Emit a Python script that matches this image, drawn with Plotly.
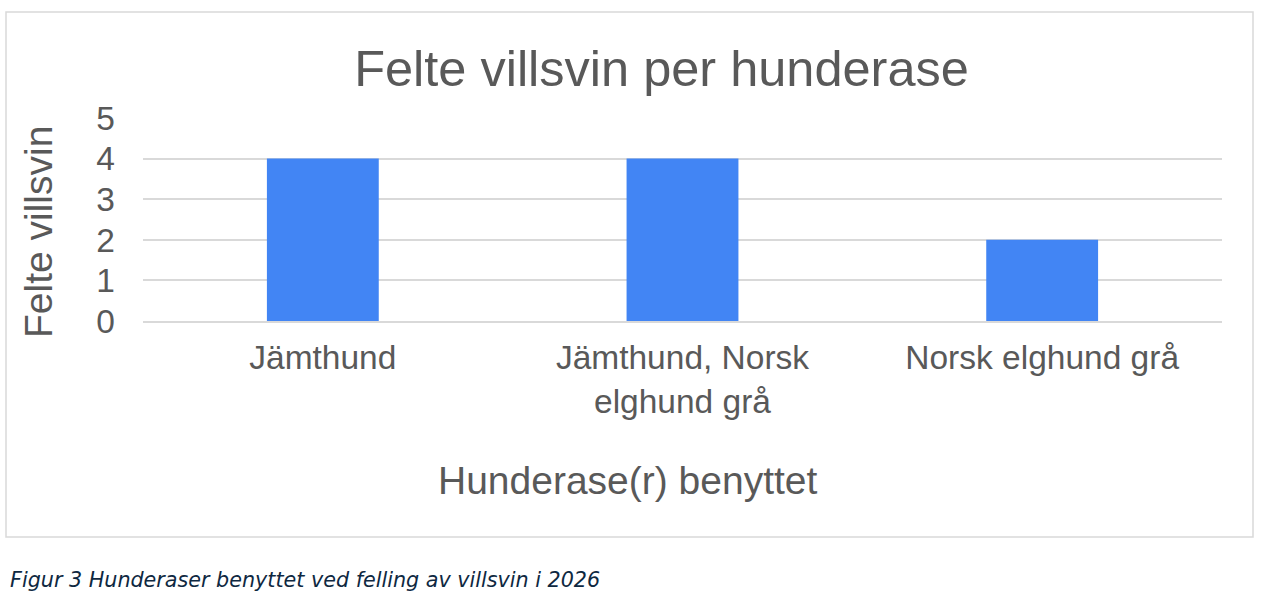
import plotly.graph_objects as go

# data
hunderaser = ["Jämthund", "Jämthund, Norsk<br>elghund grå", "Norsk elghund grå"]
felte_villsvin = [4, 4, 2]
y_ticks = [0, 1, 2, 3, 4, 5]

TEXT = "#595959"
GRID = "#D9D9D9"
FONT = "Liberation Sans, Arial, sans-serif"

fig = go.Figure()
fig.add_trace(go.Bar(x=hunderaser, y=felte_villsvin, marker_color="#4285F4",
                     marker_line_width=0, hoverinfo="x+y"))

fig.update_layout(
    width=1263, height=598,
    margin=dict(l=143, r=41, t=118, b=277),
    paper_bgcolor="white", plot_bgcolor="white",
    font=dict(family=FONT, color=TEXT),
    bargap=0.689,
    showlegend=False,
    title=dict(text="Felte villsvin per hunderase", font=dict(size=50.5, color=TEXT),
               x=661.5 / 1263, xanchor="center", y=1 - 68 / 598, yanchor="middle",
               xref="container", yref="container"),
)

fig.update_xaxes(showline=True, linecolor=GRID, linewidth=1.5, showgrid=False,
                 tickfont=dict(size=33.5, color=TEXT), ticks="", ticklabelstandoff=6)
fig.update_yaxes(range=[0, 5], tickvals=y_ticks, showgrid=True, gridcolor=GRID,
                 gridwidth=1.5, zeroline=False, showline=False,
                 tickfont=dict(size=33.5, color=TEXT), ticks="", ticklabelstandoff=27)

# outer chart border
pw, ph = 1079, 203
fig.add_shape(type="rect", xref="paper", yref="paper",
              x0=(6 - 143) / pw, x1=(1253 - 143) / pw,
              y0=(321 - 537) / ph, y1=(321 - 12) / ph,
              line=dict(color=GRID, width=1.5), layer="below")

# axis titles
fig.add_annotation(text="Hunderase(r) benyttet", xref="paper", yref="paper",
                   x=(628 - 143) / pw, y=(321 - 480) / ph, showarrow=False,
                   xanchor="center", yanchor="middle", font=dict(size=39, color=TEXT))
fig.add_annotation(text="Felte villsvin", xref="paper", yref="paper",
                   x=(38 - 143) / pw, y=(321 - 232) / ph, showarrow=False, textangle=-90,
                   xanchor="center", yanchor="middle", font=dict(size=39, color=TEXT))

# figure caption below the chart box
fig.add_annotation(text="<i>Figur 3 Hunderaser benyttet ved felling av villsvin i 2026</i>",
                   xref="paper", yref="paper", x=(8 - 143) / pw, y=(321 - 580) / ph,
                   showarrow=False, xanchor="left", yanchor="middle",
                   font=dict(family="DejaVu Sans, sans-serif", size=20.7, color="#0E2841"))

# drop the browser's default body margin so the figure sits at the page corner
fig.write_html("out.html", config={"displayModeBar": False},
               post_script="document.body.style.margin='0';")
